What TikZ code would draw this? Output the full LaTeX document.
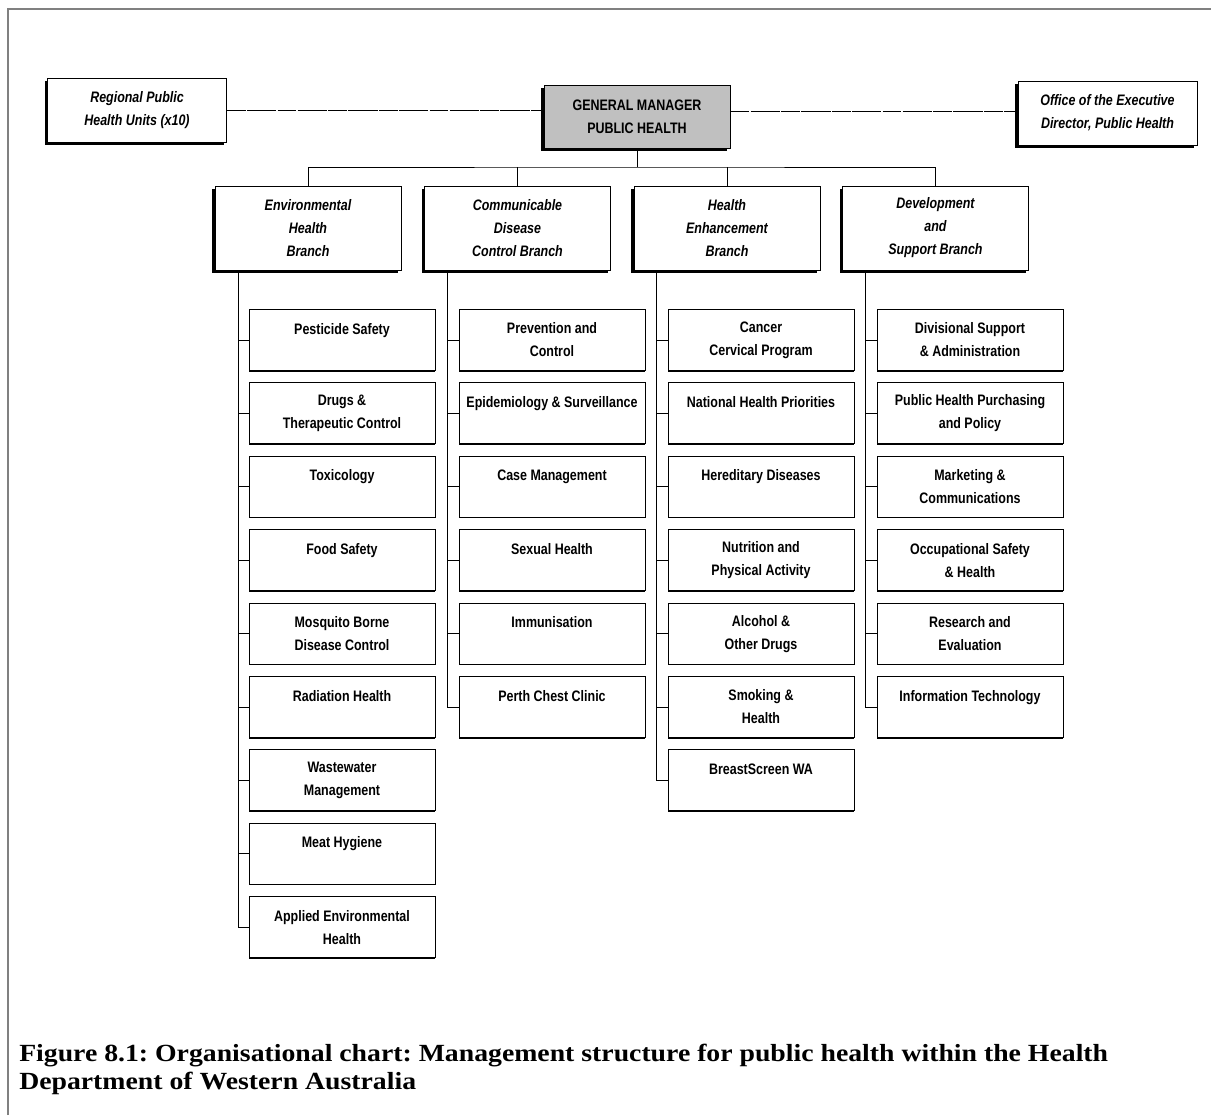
\documentclass[tikz,border=0pt]{standalone}
\usepackage{fontspec}
\setmainfont{Liberation Serif}
\newfontfamily\nar[FakeStretch=0.82]{Liberation Sans}
\newfontfamily\capfont[FakeStretch=1.125]{Liberation Serif}
\usetikzlibrary{shadows}
\definecolor{gmgrey}{HTML}{C0C0C0}
\definecolor{framegrey}{HTML}{808080}
\tikzset{
  boxtext/.style={font=\nar\bfseries\fontsize{11.4}{17.25}\selectfont, align=center, inner sep=0pt},
  topbox/.style={draw, line width=0.75pt, fill=white, boxtext,
    drop shadow={shadow xshift=-2.25pt, shadow yshift=-2.25pt, fill=black, opacity=1}},
  sidebox/.style={topbox, font=\nar\bfseries\itshape\fontsize{11.4}{17.25}\selectfont,
    minimum width=134.25pt, minimum height=48pt},
  gmbox/.style={topbox, fill=gmgrey, minimum width=139.5pt, minimum height=47.25pt},
  branchbox/.style={topbox, font=\nar\bfseries\itshape\fontsize{11.4}{17.25}\selectfont,
    minimum width=139.5pt, minimum height=63pt},
  childbox/.style={draw, line width=0.75pt, fill=white, boxtext,
    minimum width=139.5pt, minimum height=45.75pt,
    drop shadow={shadow xshift=0pt, shadow yshift=-0.8pt, fill=black, opacity=1}},
  dashline/.style={line width=0.75pt, dash pattern=on 14pt off 1pt on 22pt off 1pt},
  conn/.style={line width=0.75pt},
}
\begin{document}
\begin{tikzpicture}[x=0.75pt,y=-0.75pt]
\useasboundingbox (0,0) rectangle (1211,1115);
% frame
\draw[framegrey, line width=1.1pt] (8,1115) -- (8,9) -- (1211,9);

% top row
\node[sidebox] (reg) at (137,110) {Regional Public\\Health Units (x10)};
\node[gmbox] (gm) at (637,116.5) {GENERAL MANAGER\\PUBLIC HEALTH};
\node[sidebox] (off) at (1107.5,113) {Office of the Executive\\Director, Public Health};
\draw[dashline] (reg.east) -- (reg.east -| gm.west);
\draw[dashline] ([yshift=1pt]off.west -| gm.east) -- ([yshift=1pt]off.west);

% branches
\node[branchbox] (env) at (308,228) {Environmental\\Health\\Branch};
\node[branchbox] (cdc) at (517.5,228) {Communicable\\Disease\\Control Branch};
\node[branchbox] (hea) at (727,228) {Health\\Enhancement\\Branch};
\node[branchbox] (dev) at (935.5,228) {Development\\and\\Support Branch};

\coordinate (bus) at (637,167);
\draw[conn] (gm.south) -- (bus);
\draw[conn] (env.north) |- (bus) -| (dev.north);
\draw[conn] (cdc.north) -- (cdc.north |- bus);
\draw[conn] (hea.north) -- (hea.north |- bus);

% children: environmental
\foreach \t [count=\i from 0] in {
  {Pesticide Safety\\~},
  {Drugs \&\\Therapeutic Control},
  {Toxicology\\~},
  {Food Safety\\~},
  {Mosquito Borne\\Disease Control},
  {Radiation Health\\~},
  {Wastewater\\Management},
  {Meat Hygiene\\~},
  {Applied Environmental\\Health}}
{
  \node[childbox] (e\i) at (342,340+73.4*\i) {\t};
}
\foreach \t [count=\i from 0] in {
  {Prevention and\\Control},
  {Epidemiology \& Surveillance\\~},
  {Case Management\\~},
  {Sexual Health\\~},
  {Immunisation\\~},
  {Perth Chest Clinic\\~}}
{
  \node[childbox] (c\i) at (552,340+73.4*\i) {\t};
}
\foreach \t [count=\i from 0] in {
  {Cancer\\Cervical Program},
  {National Health Priorities\\~},
  {Hereditary Diseases\\~},
  {Nutrition and\\Physical Activity},
  {Alcohol \&\\Other Drugs},
  {Smoking \&\\Health},
  {BreastScreen WA\\~}}
{
  \node[childbox] (h\i) at (761,340+73.4*\i) {\t};
}
\foreach \t [count=\i from 0] in {
  {Divisional Support\\\& Administration},
  {Public Health Purchasing\\and Policy},
  {Marketing \&\\Communications},
  {Occupational Safety\\\& Health},
  {Research and\\Evaluation},
  {Information Technology\\~}}
{
  \node[childbox] (d\i) at (970,340+73.4*\i) {\t};
}

% spines
\coordinate (es) at ([xshift=18pt]env.south west);
\coordinate (cs) at ([xshift=17.25pt]cdc.south west);
\coordinate (hs) at ([xshift=17.25pt]hea.south west);
\coordinate (ds) at ([xshift=17.25pt]dev.south west);
\draw[conn] (es) |- (e8.west);
\foreach \i in {0,...,7} { \draw[conn] (e\i.west) -- (e\i.west -| es); }
\draw[conn] (cs) |- (c5.west);
\foreach \i in {0,...,4} { \draw[conn] (c\i.west) -- (c\i.west -| cs); }
\draw[conn] (hs) |- (h6.west);
\foreach \i in {0,...,5} { \draw[conn] (h\i.west) -- (h\i.west -| hs); }
\draw[conn] (ds) |- (d5.west);
\foreach \i in {0,...,4} { \draw[conn] (d\i.west) -- (d\i.west -| ds); }

% caption
\node[anchor=north west, align=left, inner sep=0pt,
  font=\capfont\bfseries\frenchspacing\fontsize{18.5}{21}\selectfont] (cap) at (19,1044)
  {Figure 8.1: Organisational chart: Management structure for public health within the Health\\
   Department of Western Australia};
\end{tikzpicture}
\end{document}
